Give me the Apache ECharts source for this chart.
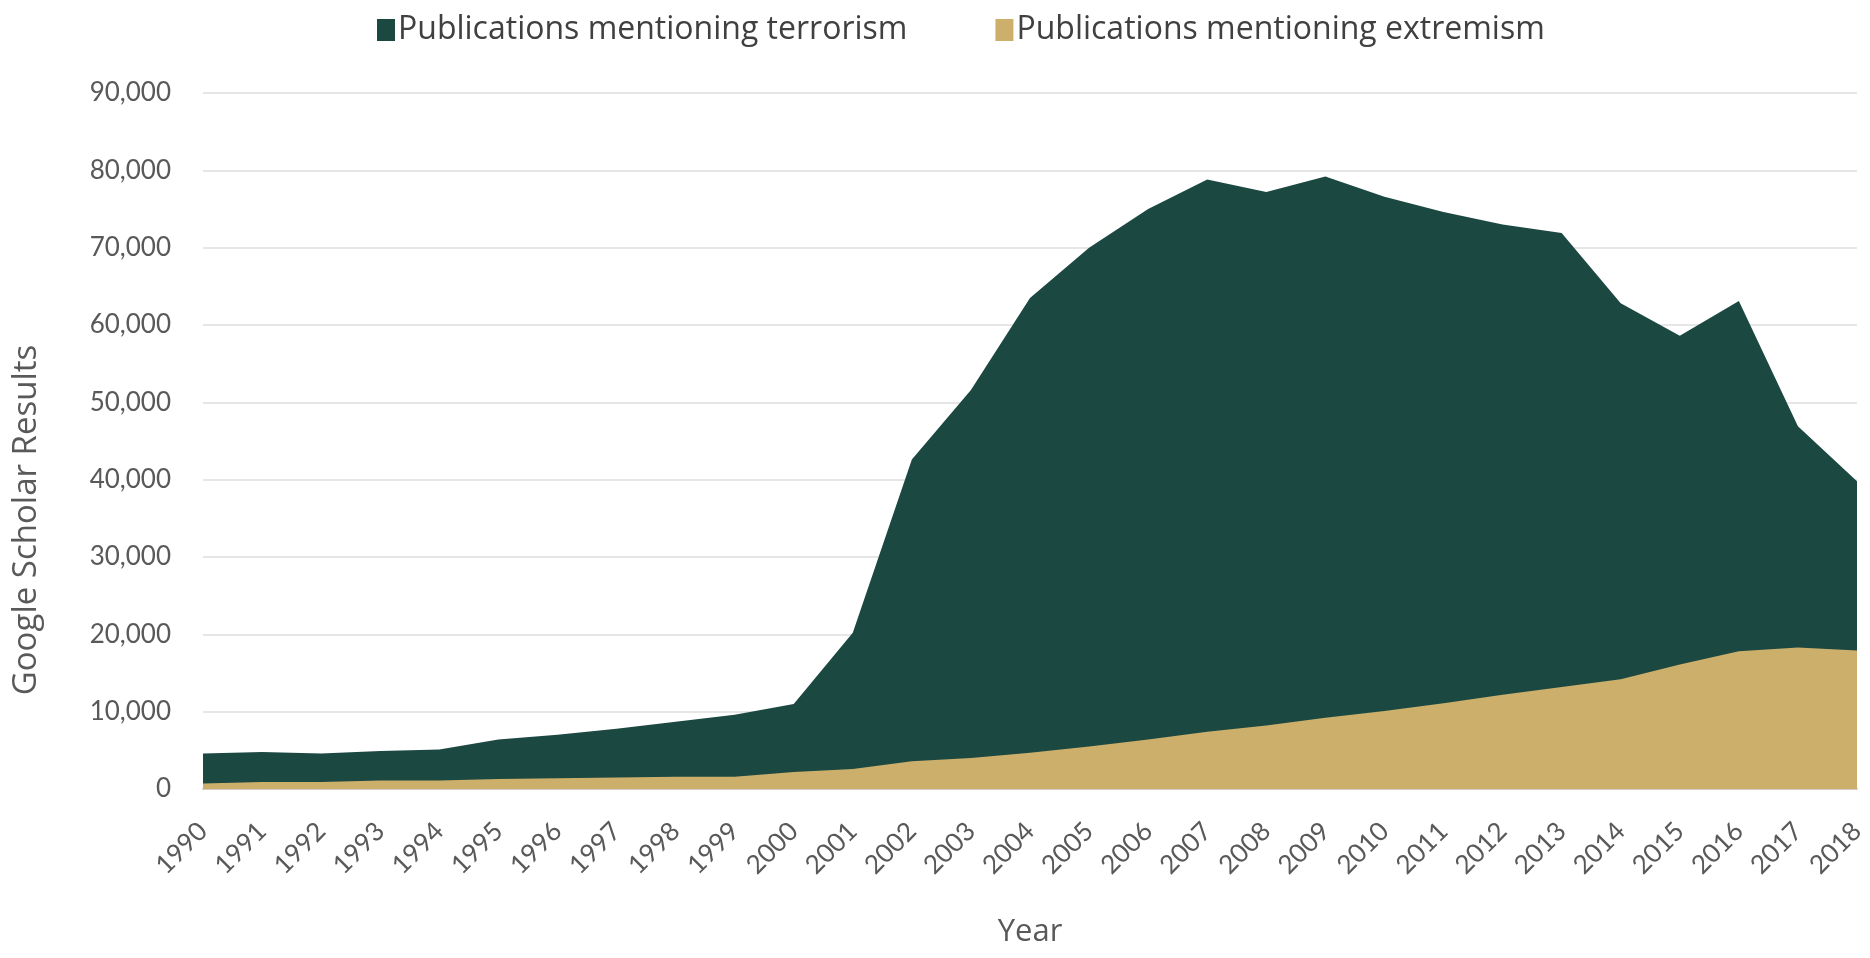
<!DOCTYPE html>
<html>
<head>
<meta charset="utf-8">
<title>Publications mentioning terrorism and extremism</title>
<script src="https://cdn.jsdelivr.net/npm/echarts@6/dist/echarts.min.js"></script>
<style>
  html, body { margin: 0; padding: 0; background: #ffffff; }
  #chart { width: 1870px; height: 958px; }
</style>
</head>
<body>
<div id="chart"></div>
<script>
// Years on the horizontal axis
const years = ['1990','1991','1992','1993','1994','1995','1996','1997','1998','1999',
  '2000','2001','2002','2003','2004','2005','2006','2007','2008','2009',
  '2010','2011','2012','2013','2014','2015','2016','2017','2018'];

// Google Scholar results per year
const terrorism = [4600, 4800, 4600, 4900, 5100, 6400, 7000, 7800, 8700, 9600,
  11000, 20200, 42600, 51600, 63500, 70000, 75000, 78800, 77200, 79200,
  76600, 74600, 73000, 71900, 62800, 58600, 63100, 46900, 39800];

const extremism = [700, 900, 900, 1100, 1100, 1300, 1400, 1500, 1600, 1600,
  2200, 2600, 3600, 4000, 4700, 5500, 6400, 7400, 8200, 9200,
  10100, 11100, 12200, 13200, 14200, 16100, 17800, 18300, 17900];

const seriesNames = ['Publications mentioning terrorism', 'Publications mentioning extremism'];
const colors = ['#1c4842', '#cbaf6a'];

const textColor = '#595959';
const tickFont = 'Lato, "Open Sans", sans-serif';
const titleFont = '"Open Sans", Lato, sans-serif';

const chart = echarts.init(document.getElementById('chart'), null, { renderer: 'canvas' });

chart.setOption({
  animation: false,
  color: colors,
  legend: {
    top: 9,
    left: 372,
    itemWidth: 18,
    itemHeight: 22,
    itemGap: 88,
    icon: 'rect',
    textStyle: { color: '#404040', fontFamily: titleFont, fontSize: 32, padding: [0, 0, 0, -2] },
    data: seriesNames
  },
  grid: { left: 203, right: 13, top: 93, bottom: 169, containLabel: false },
  xAxis: {
    type: 'category',
    data: years,
    boundaryGap: false,
    name: 'Year',
    nameLocation: 'middle',
    nameGap: 128,
    nameTextStyle: { color: textColor, fontFamily: titleFont, fontSize: 31 },
    axisLine: { show: true, lineStyle: { color: '#cfcdc3', width: 2 } },
    axisTick: { show: false },
    axisLabel: {
      rotate: 45,
      margin: 38,
      interval: 0,
      color: textColor,
      fontFamily: tickFont,
      fontSize: 26
    },
    splitLine: { show: false }
  },
  yAxis: {
    type: 'value',
    min: 0,
    max: 90000,
    interval: 10000,
    name: 'Google Scholar Results',
    nameLocation: 'middle',
    nameRotate: 90,
    nameGap: 160,
    nameTextStyle: { color: textColor, fontFamily: titleFont, fontSize: 33, padding: [0, 158, 0, 0] },
    axisLine: { show: false },
    axisTick: { show: false },
    axisLabel: {
      margin: 32,
      color: textColor,
      fontFamily: tickFont,
      fontSize: 26,
      formatter: v => v.toLocaleString('en-US')
    },
    splitLine: { lineStyle: { color: '#e6e6e6', width: 2 } }
  },
  series: [
    {
      name: seriesNames[0],
      type: 'line',
      data: terrorism,
      symbol: 'none',
      smooth: false,
      lineStyle: { width: 0 },
      areaStyle: { color: colors[0], opacity: 1 },
      z: 2
    },
    {
      name: seriesNames[1],
      type: 'line',
      data: extremism,
      symbol: 'none',
      smooth: false,
      lineStyle: { width: 0 },
      areaStyle: { color: colors[1], opacity: 1 },
      z: 3
    }
  ]
});
</script>
</body>
</html>
